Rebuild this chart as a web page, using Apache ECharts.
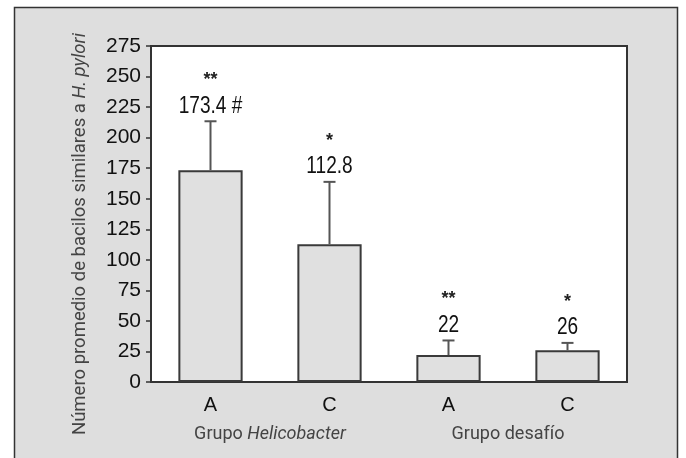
<!DOCTYPE html>
<html>
<head>
<meta charset="utf-8">
<script src="https://cdn.jsdelivr.net/npm/echarts@6/dist/echarts.min.js"></script>
<style>
html,body{margin:0;padding:0;background:#fff;}
#c{width:686px;height:458px;}
</style>
</head>
<body>
<div id="c"></div>
<script>
// ---- data ----
const categories = ['A', 'C', 'A', 'C'];
const groups = ['Grupo Helicobacter', 'Grupo desafío'];
const means = [173.4, 112.8, 22, 26];
const errors = [40, 51, 12, 6];
const valueLabels = ['173.4 #', '112.8', '22', '26'];
const stars = ['**', '*', '**', '*'];
const yTicks = [0, 25, 50, 75, 100, 125, 150, 175, 200, 225, 250, 275];

const sans = '"Liberation Sans", Arial, sans-serif';
const chart = echarts.init(document.getElementById('c'));

const errData = means.map((m, i) => [i, m, m + errors[i]]);

chart.setOption({
  animation: false,
  graphic: [{
    type: 'rect', z: -100, silent: true,
    shape: { x: 14.5, y: 7.5, width: 663, height: 460 },
    style: { fill: '#dedede', stroke: '#333', lineWidth: 1.5 }
  }],
  grid: [
    { left: 151, right: 59, top: 46, bottom: 76, show: true, backgroundColor: '#fff', borderColor: '#333', borderWidth: 2 },
    { left: 151, right: 59, top: 46, bottom: 76, show: false }
  ],
  xAxis: [
    {
      type: 'category', gridIndex: 0, data: categories,
      axisLine: { lineStyle: { color: '#333', width: 2 } },
      axisTick: { show: false },
      axisLabel: { margin: 13, fontSize: 20, fontFamily: sans, color: '#111' }
    },
    {
      type: 'category', gridIndex: 1, data: groups,
      axisLine: { show: false }, axisTick: { show: false },
      axisLabel: {
        margin: 43, fontSize: 18, fontFamily: 'Roboto, sans-serif', color: '#444',
        formatter: v => v.replace('Helicobacter', '{i|Helicobacter}'),
        rich: { i: { fontStyle: 'italic', fontSize: 18, fontFamily: 'Roboto, sans-serif', color: '#444' } }
      }
    }
  ],
  yAxis: [
    {
      type: 'value', gridIndex: 0, min: yTicks[0], max: yTicks[yTicks.length - 1], interval: 25,
      splitLine: { show: false },
      axisLine: { show: true, lineStyle: { color: '#333', width: 2 } },
      axisTick: { show: true, length: 5, lineStyle: { color: '#333', width: 1.5 } },
      axisLabel: { margin: 10, fontSize: 21, fontFamily: sans, color: '#111' },
      name: '{n|Número promedio de bacilos similares a }{i|H. pylori}',
      nameLocation: 'middle', nameRotate: 90, nameGap: 61,
      nameTextStyle: {
        padding: [0, 40, 0, 0],
        rich: {
          n: { fontSize: 18.5, fontFamily: 'Roboto, sans-serif', color: '#444' },
          i: { fontSize: 18.5, fontFamily: 'Roboto, sans-serif', fontStyle: 'italic', color: '#444' }
        }
      }
    },
    { type: 'value', gridIndex: 1, show: false, min: 0, max: 275 }
  ],
  series: [
    {
      type: 'bar', data: means, xAxisIndex: 0, yAxisIndex: 0,
      barCategoryGap: '46%',
      itemStyle: { color: '#e0e0e0', borderColor: '#3a3a3a', borderWidth: 2 }
    },
    {
      type: 'custom', xAxisIndex: 0, yAxisIndex: 0, data: errData, z: 5,
      renderItem: (params, api) => {
        const i = api.value(0);
        const base = api.coord([i, api.value(1)]);
        const top = api.coord([i, api.value(2)]);
        const x = base[0];
        return {
          type: 'group',
          children: [
            { type: 'line', shape: { x1: x, y1: base[1], x2: x, y2: top[1] }, style: { stroke: '#555', lineWidth: 2 } },
            { type: 'line', shape: { x1: x - 6, y1: top[1], x2: x + 6, y2: top[1] }, style: { stroke: '#555', lineWidth: 2 } },
            { type: 'text', x: x, y: top[1] - 15, scaleX: 0.83, style: { text: valueLabels[i], fontSize: 23, fontFamily: sans, fill: '#111', align: 'center', verticalAlign: 'middle' } },
            { type: 'text', x: x, y: top[1] - 41, style: { text: stars[i], fontSize: 18, fontWeight: 'bold', fontFamily: sans, fill: '#222', align: 'center', verticalAlign: 'middle' } }
          ]
        };
      }
    }
  ]
});
</script>
</body>
</html>
